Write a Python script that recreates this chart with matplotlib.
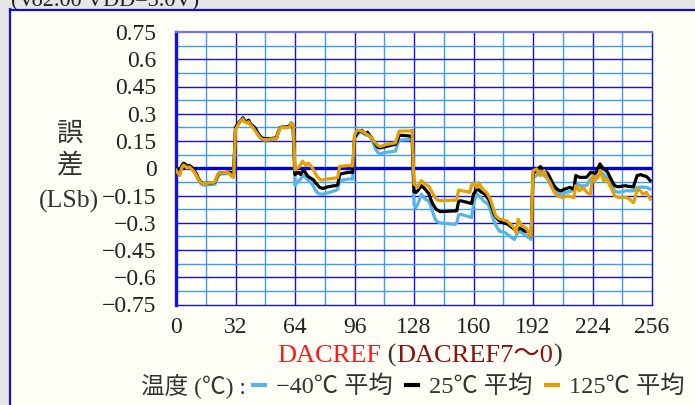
import matplotlib
matplotlib.use("Agg")
import matplotlib.pyplot as plt
from matplotlib.lines import Line2D
from matplotlib.patches import Rectangle
import numpy as np

# DACREF codes and average error (LSb) per temperature
codes = list(range(256))

err_m40 = [
    -0.012, -0.022, -0.030, 0.002, 0.018, 0.012, 0.004, 0.006, 0.000, -0.010, -0.025, -0.040, -0.065, -0.082, -0.090, -0.094,
    -0.093, -0.091, -0.091, -0.090, -0.089, -0.088, -0.060, -0.035, -0.032, -0.031, -0.031, -0.030, -0.030, -0.030, -0.032, -0.038,
    0.220, 0.235, 0.250, 0.260, 0.272, 0.258, 0.250, 0.260, 0.240, 0.230, 0.222, 0.208, 0.188, 0.172, 0.160, 0.157,
    0.155, 0.156, 0.157, 0.157, 0.158, 0.160, 0.162, 0.195, 0.222, 0.225, 0.226, 0.226, 0.228, 0.233, 0.252, 0.235,
    -0.096, -0.080, -0.069, -0.060, -0.045, -0.041, -0.055, -0.065, -0.075, -0.085, -0.100, -0.120, -0.135, -0.140, -0.143, -0.142,
    -0.140, -0.137, -0.134, -0.131, -0.128, -0.125, -0.122, -0.115, -0.069, -0.066, -0.064, -0.062, -0.060, -0.059, -0.059, -0.060,
    0.165, 0.175, 0.190, 0.195, 0.200, 0.190, 0.183, 0.181, 0.175, 0.165, 0.140, 0.115, 0.095, 0.082, 0.080, 0.083,
    0.086, 0.088, 0.089, 0.090, 0.091, 0.093, 0.094, 0.125, 0.154, 0.155, 0.156, 0.157, 0.157, 0.158, 0.160, 0.162,
    -0.200, -0.216, -0.198, -0.170, -0.142, -0.158, -0.170, -0.176, -0.180, -0.210, -0.240, -0.270, -0.290, -0.296, -0.300, -0.302,
    -0.303, -0.304, -0.305, -0.306, -0.307, -0.308, -0.309, -0.300, -0.258, -0.253, -0.256, -0.259, -0.262, -0.265, -0.268, -0.272,
    -0.198, -0.160, -0.142, -0.155, -0.161, -0.175, -0.185, -0.192, -0.198, -0.230, -0.260, -0.290, -0.315, -0.330, -0.346, -0.350,
    -0.352, -0.355, -0.362, -0.370, -0.378, -0.385, -0.392, -0.370, -0.346, -0.350, -0.355, -0.362, -0.370, -0.377, -0.383, -0.392,
    -0.050, -0.045, -0.040, -0.020, -0.013, -0.035, -0.040, -0.050, -0.060, -0.085, -0.100, -0.115, -0.125, -0.135, -0.140, -0.142,
    -0.140, -0.137, -0.133, -0.130, -0.127, -0.124, -0.124, -0.077, -0.085, -0.096, -0.096, -0.096, -0.096, -0.094, -0.075, -0.059,
    -0.059, -0.060, -0.045, -0.030, -0.013, -0.025, -0.031, -0.045, -0.055, -0.068, -0.090, -0.110, -0.124, -0.130, -0.133, -0.130,
    -0.128, -0.126, -0.124, -0.124, -0.124, -0.124, -0.124, -0.110, -0.105, -0.105, -0.104, -0.104, -0.105, -0.105, -0.110, -0.115,
]

err_25 = [
    -0.005, -0.015, -0.025, 0.012, 0.028, 0.022, 0.012, 0.016, 0.010, 0.000, -0.015, -0.030, -0.055, -0.072, -0.080, -0.084,
    -0.083, -0.081, -0.081, -0.080, -0.079, -0.078, -0.050, -0.028, -0.025, -0.024, -0.024, -0.023, -0.022, -0.022, -0.024, -0.030,
    0.225, 0.240, 0.255, 0.265, 0.278, 0.262, 0.255, 0.265, 0.245, 0.235, 0.228, 0.215, 0.195, 0.180, 0.168, 0.165,
    0.162, 0.163, 0.164, 0.163, 0.165, 0.166, 0.168, 0.200, 0.224, 0.226, 0.227, 0.226, 0.228, 0.232, 0.245, 0.220,
    -0.035, -0.028, -0.022, -0.035, -0.018, -0.013, -0.031, -0.045, -0.052, -0.058, -0.065, -0.080, -0.090, -0.103, -0.108, -0.111,
    -0.108, -0.104, -0.102, -0.100, -0.098, -0.096, -0.096, -0.090, -0.035, -0.030, -0.028, -0.026, -0.024, -0.022, -0.022, -0.024,
    0.170, 0.185, 0.200, 0.205, 0.209, 0.195, 0.190, 0.198, 0.183, 0.170, 0.155, 0.138, 0.122, 0.113, 0.112, 0.115,
    0.117, 0.120, 0.122, 0.125, 0.127, 0.130, 0.131, 0.150, 0.180, 0.181, 0.181, 0.180, 0.179, 0.178, 0.176, 0.176,
    -0.130, -0.133, -0.124, -0.110, -0.096, -0.105, -0.115, -0.128, -0.140, -0.170, -0.195, -0.212, -0.226, -0.232, -0.239, -0.238,
    -0.238, -0.237, -0.237, -0.236, -0.236, -0.235, -0.235, -0.235, -0.182, -0.179, -0.181, -0.184, -0.186, -0.189, -0.192, -0.194,
    -0.142, -0.128, -0.115, -0.120, -0.130, -0.135, -0.142, -0.155, -0.170, -0.190, -0.220, -0.250, -0.268, -0.280, -0.290, -0.295,
    -0.300, -0.303, -0.306, -0.312, -0.320, -0.328, -0.337, -0.346, -0.335, -0.328, -0.335, -0.343, -0.347, -0.350, -0.355, -0.374,
    -0.031, -0.020, -0.013, 0.000, 0.009, -0.005, -0.013, -0.020, -0.030, -0.050, -0.070, -0.090, -0.105, -0.115, -0.122, -0.124,
    -0.120, -0.115, -0.112, -0.108, -0.105, -0.112, -0.115, -0.040, -0.045, -0.050, -0.050, -0.050, -0.050, -0.048, -0.035, -0.022,
    -0.025, -0.031, -0.020, 0.000, 0.024, 0.008, -0.004, -0.010, -0.020, -0.040, -0.060, -0.080, -0.096, -0.100, -0.102, -0.100,
    -0.098, -0.097, -0.096, -0.100, -0.100, -0.102, -0.102, -0.070, -0.040, -0.038, -0.035, -0.040, -0.042, -0.046, -0.055, -0.068,
]

err_125 = [
    -0.010, -0.025, -0.040, 0.000, 0.018, 0.012, 0.000, 0.008, 0.000, -0.010, -0.022, -0.038, -0.060, -0.075, -0.082, -0.085,
    -0.084, -0.082, -0.080, -0.079, -0.078, -0.076, -0.045, -0.028, -0.025, -0.025, -0.024, -0.024, -0.024, -0.030, -0.045, -0.050,
    0.215, 0.230, 0.250, 0.262, 0.272, 0.255, 0.248, 0.256, 0.238, 0.228, 0.215, 0.200, 0.185, 0.172, 0.162, 0.158,
    0.157, 0.158, 0.160, 0.161, 0.162, 0.162, 0.163, 0.195, 0.222, 0.224, 0.224, 0.223, 0.224, 0.226, 0.250, 0.240,
    -0.010, 0.000, 0.006, 0.020, 0.039, 0.028, 0.015, 0.028, 0.020, 0.006, -0.010, -0.030, -0.046, -0.058, -0.065, -0.064,
    -0.062, -0.060, -0.059, -0.058, -0.056, -0.055, -0.053, -0.050, 0.010, 0.011, 0.012, 0.013, 0.014, 0.015, 0.015, 0.012,
    0.180, 0.205, 0.209, 0.207, 0.205, 0.198, 0.190, 0.185, 0.178, 0.168, 0.155, 0.142, 0.132, 0.122, 0.120, 0.123,
    0.127, 0.130, 0.132, 0.134, 0.136, 0.138, 0.139, 0.170, 0.204, 0.205, 0.205, 0.205, 0.205, 0.205, 0.206, 0.208,
    -0.087, -0.095, -0.105, -0.085, -0.068, -0.078, -0.088, -0.094, -0.100, -0.118, -0.135, -0.155, -0.170, -0.175, -0.179, -0.178,
    -0.178, -0.177, -0.177, -0.177, -0.176, -0.176, -0.176, -0.170, -0.120, -0.122, -0.124, -0.126, -0.128, -0.130, -0.133, -0.090,
    -0.081, -0.095, -0.105, -0.081, -0.100, -0.115, -0.125, -0.133, -0.150, -0.170, -0.200, -0.235, -0.263, -0.272, -0.279, -0.281,
    -0.285, -0.288, -0.290, -0.300, -0.310, -0.318, -0.335, -0.355, -0.281, -0.300, -0.318, -0.322, -0.327, -0.340, -0.365, -0.374,
    -0.013, -0.009, -0.004, -0.030, -0.040, -0.020, -0.013, -0.040, -0.060, -0.077, -0.100, -0.124, -0.140, -0.150, -0.155, -0.158,
    -0.161, -0.158, -0.155, -0.152, -0.156, -0.160, -0.161, -0.096, -0.110, -0.124, -0.115, -0.105, -0.120, -0.133, -0.140, -0.142,
    -0.040, -0.068, -0.060, -0.050, -0.013, -0.040, -0.068, -0.062, -0.059, -0.090, -0.105, -0.130, -0.152, -0.157, -0.161, -0.160,
    -0.160, -0.161, -0.161, -0.165, -0.170, -0.180, -0.189, -0.161, -0.115, -0.120, -0.128, -0.142, -0.138, -0.133, -0.150, -0.170,
]

x_ticks = [0, 32, 64, 96, 128, 160, 192, 224, 256]
y_ticks = [0.75, 0.6, 0.45, 0.3, 0.15, 0, -0.15, -0.3, -0.45, -0.6, -0.75]
y_tick_labels = ["0.75", "0.6", "0.45", "0.3", "0.15", "0", "\u22120.15", "\u22120.3",
                 "\u22120.45", "\u22120.6", "\u22120.75"]

series_labels = ["\u221240\u2103 平均", "25\u2103 平均", "125\u2103 平均"]
series_colors = ["#56B4E9", "#000000", "#E69F00"]

SERIF = ["Liberation Serif", "Noto Sans CJK JP"]
JP = ["Noto Sans CJK JP", "Liberation Serif"]
IVORY = "#fffff7"
TEXT = "#333333"

W, H = 695, 405
fig = plt.figure(figsize=(W / 100, H / 100), dpi=100, facecolor="#e6e6e6")

# cream panel with blue border on the left and top
panel = Rectangle((10 / W, 0), 1 - 10 / W, 1 - 10 / H, transform=fig.transFigure,
                  facecolor=IVORY, edgecolor="none", zorder=-10)
fig.add_artist(panel)
fig.add_artist(Line2D([10 / W, 10 / W], [0, 1 - 9 / H], color="#1010e0", lw=1.6, zorder=-9))
fig.add_artist(Line2D([10 / W, 1], [1 - 9.5 / H, 1 - 9.5 / H], color="#1010d0", lw=1.6, zorder=-9))

# condition line at the top edge
fig.text(11 / W, 1 - 6 / H, "(Vo2.00 VDD=3.0V)", family=SERIF, fontsize=16,
         color="#222222", va="baseline", ha="left")

ax = fig.add_axes([176 / W, 1 - 304.5 / H, (652 - 176) / W, (304.5 - 32) / H])
ax.set_facecolor(IVORY)
ax.set_xlim(0, 256)
ax.set_ylim(-0.75, 0.75)

# grid: every 16 codes / 0.075 LSb, heavier on labelled ticks
for xv in np.arange(16, 256, 16):
    major = xv % 32 == 0
    ax.axvline(xv, color="#1010ee" if major else "#3d9bff", lw=1.0, zorder=1)
for yv in np.arange(-0.675, 0.75, 0.075):
    if abs(yv) < 1e-9:
        continue
    major = abs(round(yv / 0.15) * 0.15 - yv) < 1e-9
    ax.axhline(yv, color="#1010ee" if major else "#3d9bff", lw=1.0, zorder=1)
ax.axhline(0, color="#0000dd", lw=2.4, zorder=1.5)

for vals, col, lab in zip([err_m40, err_25, err_125], series_colors, series_labels):
    ax.plot(codes, vals, color=col, lw=2.3, label=lab, zorder=3, solid_joinstyle="round")

for side, sp in ax.spines.items():
    sp.set_color("#1010ee")
    sp.set_linewidth(1.0)
ax.spines["left"].set_linewidth(2.4)
ax.spines["top"].set_color("#7070ff")
ax.spines["top"].set_linewidth(1.6)

ax.set_xticks(x_ticks)
ax.set_xticklabels([str(t) for t in x_ticks])
ax.set_yticks(y_ticks)
ax.set_yticklabels(y_tick_labels)
ax.tick_params(length=0, labelsize=17, labelcolor="#222222")
ax.tick_params(axis="y", pad=14)
ax.tick_params(axis="x", pad=9)
for lbl in ax.get_xticklabels() + ax.get_yticklabels():
    lbl.set_family(SERIF)

# vertical axis title
fig.text(70 / W, 1 - 133 / H, "誤", family=JP, fontsize=19, color=TEXT, ha="center", va="center")
fig.text(70 / W, 1 - 166 / H, "差", family=JP, fontsize=19, color=TEXT, ha="center", va="center")
fig.text(69 / W, 1 - 201 / H, "(LSb)", family=SERIF, fontsize=18.5, color=TEXT, ha="center", va="center")

# horizontal axis title in coloured pieces
t1 = fig.text(277 / W, 1 - 362 / H, "DACREF", family=SERIF, fontsize=19, color="#ff1a1a",
              ha="left", va="baseline")
p1 = fig.text(0, 0, " (", family=SERIF, fontsize=19, color=TEXT, ha="left", va="baseline")
p2 = fig.text(0, 0, "DACREF7\uff5e0", family=SERIF, fontsize=19, color="#8b1010",
              ha="left", va="baseline")
p3 = fig.text(0, 0, ")", family=SERIF, fontsize=19, color=TEXT, ha="left", va="baseline")

renderer = fig.canvas.get_renderer()
x_cur = t1.get_window_extent(renderer).x1
for piece in (p1, p2, p3):
    piece.set_position((x_cur / fig.bbox.width, 1 - 362 / H))
    x_cur = piece.get_window_extent(renderer).x1

# legend with its caption on the left
fig.text(141 / W, 1 - 387 / H, "温度 (\u2103) :", family=SERIF, fontsize=17, color=TEXT,
         ha="left", va="center")
handles, labels = ax.get_legend_handles_labels()
leg = fig.legend(handles, labels, ncol=3, loc="center left",
                 bbox_to_anchor=(253 / W, 1 - 387 / H), frameon=False,
                 handlelength=0.5, handletextpad=0.45, columnspacing=0.55,
                 prop={"family": SERIF, "size": 17.5}, borderaxespad=0, borderpad=0)
for line in leg.get_lines():
    line.set_linewidth(3.0)
for txt in leg.get_texts():
    txt.set_color(TEXT)

fig.savefig("out.png", dpi=100, facecolor=fig.get_facecolor())
